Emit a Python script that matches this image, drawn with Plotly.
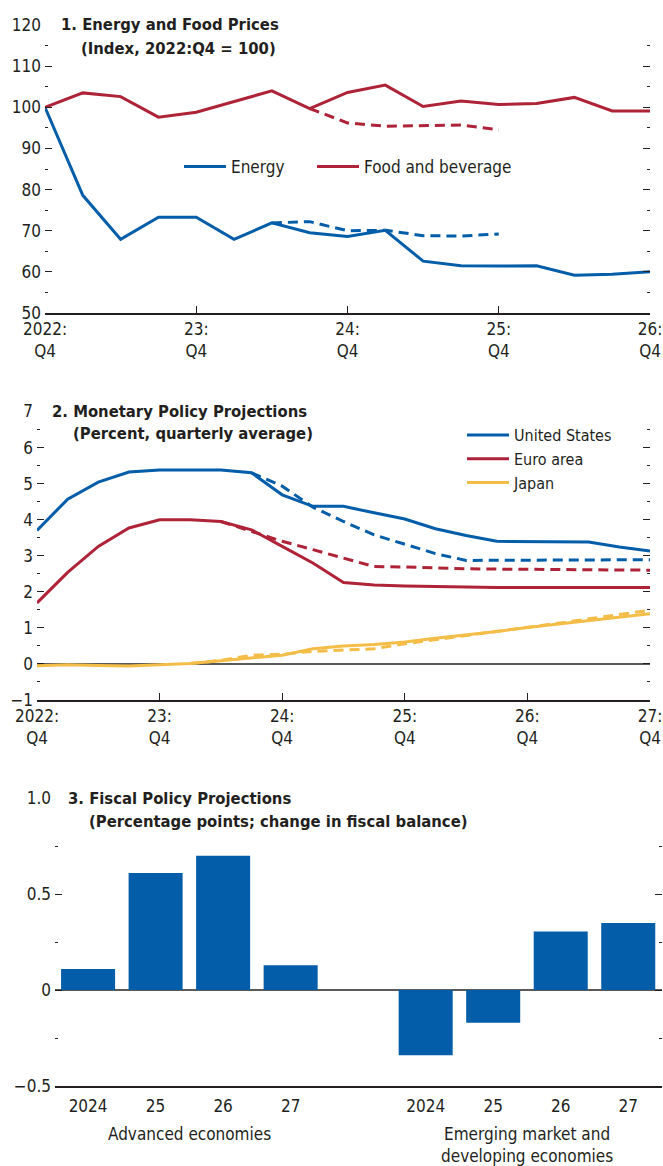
import plotly.graph_objects as go

# panel 1: energy and food prices, index 2022:Q4 = 100
p1_quarters = [f"{y}:Q{q}" for y in range(2022, 2027) for q in range(1, 5)][3:]
energy = [100, 78.6, 67.9, 73.3, 73.3, 67.9, 71.9, 69.5, 68.6, 70.1, 62.6, 61.5, 61.4, 61.5, 59.2, 59.4, 60.0]
energy_prev = [None] * 6 + [71.9, 72.2, 70.0, 70.1, 68.8, 68.7, 69.2] + [None] * 4
food = [100, 103.5, 102.6, 97.6, 98.8, 101.4, 104.0, 99.7, 103.6, 105.4, 100.2, 101.5, 100.7, 100.9, 102.4, 99.1, 99.1]
food_prev = [None] * 7 + [99.7, 96.2, 95.4, 95.6, 95.7, 94.5] + [None] * 4
p1_ticks = ["2022:Q4", "2023:Q4", "2024:Q4", "2025:Q4", "2026:Q4"]
p1_ticktext = ["2022:<br>Q4", "23:<br>Q4", "24:<br>Q4", "25:<br>Q4", "26:<br>Q4"]

# panel 2: policy rates, percent, quarterly average
p2_quarters = [f"{y}:Q{q}" for y in range(2022, 2028) for q in range(1, 5)][3:]
us = [3.70, 4.57, 5.04, 5.32, 5.38, 5.38, 5.38, 5.30, 4.69, 4.37, 4.37, 4.19, 4.02, 3.75, 3.56, 3.40, 3.39, 3.39, 3.38, 3.24, 3.13]
us_prev = [None] * 7 + [5.30, 4.93, 4.35, 3.95, 3.58, 3.31, 3.06, 2.87, 2.87, 2.87, 2.87, 2.87, 2.88, 2.89]
euro = [1.69, 2.54, 3.26, 3.77, 4.00, 4.00, 3.95, 3.72, 3.26, 2.80, 2.26, 2.19, 2.16, 2.14, 2.12, 2.12, 2.12, 2.12, 2.12, 2.12, 2.12]
euro_prev = [None] * 6 + [3.95, 3.67, 3.40, 3.17, 2.94, 2.70, 2.69, 2.66, 2.64, 2.63, 2.62, 2.61, 2.61, 2.60, 2.60]
japan = [-0.05, -0.02, -0.04, -0.06, -0.02, 0.01, 0.09, 0.17, 0.24, 0.42, 0.50, 0.54, 0.61, 0.71, 0.80, 0.90, 1.01, 1.10, 1.20, 1.30, 1.39]
japan_prev = [None] * 5 + [0.01, 0.10, 0.24, 0.27, 0.35, 0.39, 0.42, 0.56, 0.67, 0.79, 0.90, 1.02, 1.13, 1.25, 1.37, 1.49]
p2_ticks = ["2022:Q4", "2023:Q4", "2024:Q4", "2025:Q4", "2026:Q4", "2027:Q4"]
p2_ticktext = ["2022:<br>Q4", "23:<br>Q4", "24:<br>Q4", "25:<br>Q4", "26:<br>Q4", "27:<br>Q4"]

# panel 3: change in fiscal balance, percentage points
fiscal_labels = ["2024", "25", "26", "27", "", "2024", "25", "26", "27"]
fiscal = [0.11, 0.61, 0.70, 0.13, None, -0.34, -0.17, 0.305, 0.35]
groups = ["Advanced economies", "Emerging market and<br>developing economies"]

BLUE = "#035DA9"
RED = "#AE2338"
YELLOW = "#F3BD47"
INK = "#231F20"
FONT = "DejaVu Sans Condensed, Liberation Sans Narrow, sans-serif"
DASH = "10px,6px"

W, H = 663, 1166
def px(x):
    return x / W
def py(y):
    return 1 - y / H

fig = go.Figure()

# panel 1 (each legend entry gets its own legend box so spacing can match)
fig.add_trace(go.Scatter(x=p1_quarters, y=energy, name="Energy", mode="lines",
                         line=dict(color=BLUE, width=3), xaxis="x", yaxis="y", legend="legend"))
fig.add_trace(go.Scatter(x=p1_quarters, y=food, name="Food and beverage", mode="lines",
                         line=dict(color=RED, width=3), xaxis="x", yaxis="y", legend="legend3"))
fig.add_trace(go.Scatter(x=p1_quarters, y=energy_prev, mode="lines", showlegend=False,
                         line=dict(color=BLUE, width=3, dash=DASH), xaxis="x", yaxis="y"))
fig.add_trace(go.Scatter(x=p1_quarters, y=food_prev, mode="lines", showlegend=False,
                         line=dict(color=RED, width=3, dash=DASH), xaxis="x", yaxis="y"))

# panel 2
for name, vals, prev, col in [("United States", us, us_prev, BLUE),
                              ("Euro area", euro, euro_prev, RED),
                              ("Japan", japan, japan_prev, YELLOW)]:
    fig.add_trace(go.Scatter(x=p2_quarters, y=prev, mode="lines", showlegend=False,
                             line=dict(color=col, width=3, dash=DASH), xaxis="x2", yaxis="y2"))
    fig.add_trace(go.Scatter(x=p2_quarters, y=vals, name=name, mode="lines",
                             line=dict(color=col, width=3), xaxis="x2", yaxis="y2", legend="legend2"))

# panel 3
fig.add_trace(go.Bar(x=list(range(len(fiscal))), y=fiscal, marker=dict(color=BLUE, line=dict(width=0)),
                     width=0.8, showlegend=False, xaxis="x3", yaxis="y3"))

tickfont = dict(family=FONT, size=17, color=INK)
common_y = dict(showgrid=False, showline=False, ticks="inside", ticklen=7, tickwidth=1.2, tickcolor=INK,
                mirror="ticks", tickfont=tickfont, automargin=False, ticklabelstandoff=3)
common_x = dict(showgrid=False, showline=True, linecolor=INK, linewidth=1.5, tickfont=tickfont,
                automargin=False, zeroline=False)
legend_style = dict(font=dict(family=FONT, size=17, color=INK), bgcolor="rgba(0,0,0,0)",
                    itemwidth=42, tracegroupgap=0)

fig.update_layout(
    width=W, height=H, margin=dict(l=0, r=0, t=0, b=0, autoexpand=False),
    paper_bgcolor="white", plot_bgcolor="white",
    font=dict(family=FONT, size=17, color=INK),
    xaxis=dict(domain=[px(45), px(650)], anchor="y", type="category", categoryorder="array",
               categoryarray=p1_quarters, range=[0, len(p1_quarters) - 1],
               tickvals=p1_ticks, ticktext=p1_ticktext, ticks="inside", ticklen=7, tickwidth=1.2,
               tickcolor=INK, **common_x),
    yaxis=dict(domain=[py(313), py(25)], anchor="x", range=[50, 120], dtick=10, zeroline=False,
               minor=dict(ticks="inside", ticklen=3, dtick=5, tickcolor=INK), **common_y),
    xaxis2=dict(domain=[px(37), px(650)], anchor="y2", type="category", categoryorder="array",
                categoryarray=p2_quarters, range=[0, len(p2_quarters) - 1],
                tickvals=p2_ticks, ticktext=p2_ticktext, ticks="inside", ticklen=7, tickwidth=1.2,
                tickcolor=INK, **common_x),
    yaxis2=dict(domain=[py(700), py(411.5)], anchor="x2", range=[-1, 7],
                tickvals=[-1, 0, 1, 2, 3, 4, 5, 6, 7], ticktext=["\u22121", "0", "1", "2", "3", "4", "5", "6", "7"],
                zeroline=True, zerolinecolor="#5A5A5A", zerolinewidth=1.5,
                minor=dict(ticks="inside", ticklen=3, dtick=0.5, tickcolor=INK), **common_y),
    xaxis3=dict(domain=[px(55), px(662)], anchor="y3", range=[-0.49, len(fiscal) - 0.5],
                tickvals=list(range(len(fiscal))), ticktext=fiscal_labels, ticks="",
                ticklabelstandoff=4, **common_x),
    yaxis3=dict(domain=[py(1086), py(798.3)], anchor="x3", range=[-0.5, 1.0],
                tickvals=[-0.5, 0, 0.5, 1.0], ticktext=["\u22120.5", "0", "0.5", "1.0"],
                zeroline=True, zerolinecolor="#5A5A5A", zerolinewidth=1.5,
                minor=dict(ticks="inside", ticklen=3, dtick=0.25, tickcolor=INK), **common_y),
    legend=dict(orientation="h", x=px(179), y=py(167), xanchor="left", yanchor="middle", **legend_style),
    legend3=dict(orientation="h", x=px(312), y=py(167), xanchor="left", yanchor="middle", **legend_style),
    legend2=dict(orientation="v", x=px(462), y=py(418), xanchor="left", yanchor="top",
                 **{**legend_style, "font": dict(family=FONT, size=16, color=INK)}),
    bargap=0.2,
)

titles = [
    (59, 25, "<b>1. Energy and Food Prices</b>"),
    (79, 48, "<b>(Index, 2022:Q4 = 100)</b>"),
    (50, 411.5, "<b>2. Monetary Policy Projections</b>"),
    (71, 434, "<b>(Percent, quarterly average)</b>"),
    (66, 798.3, "<b>3. Fiscal Policy Projections</b>"),
    (87, 821, "<b>(Percentage points; change in fiscal balance)</b>"),
]
for x, y, t in titles:
    fig.add_annotation(x=px(x), y=py(y), xref="paper", yref="paper", text=t, showarrow=False,
                       xanchor="left", yanchor="middle", font=dict(family=FONT, size=16.5, color=INK))

# group labels under panel 3
fig.add_annotation(x=1.5, y=py(1122), xref="x3", yref="paper", text=groups[0], showarrow=False,
                   xanchor="center", yanchor="top", font=dict(family=FONT, size=17, color=INK))
fig.add_annotation(x=6.5, y=py(1122), xref="x3", yref="paper", text=groups[1], showarrow=False,
                   xanchor="center", yanchor="top", font=dict(family=FONT, size=17, color=INK))

fig.write_html("out.html", config={"displayModeBar": False},
               post_script="document.body.style.margin='0';")
